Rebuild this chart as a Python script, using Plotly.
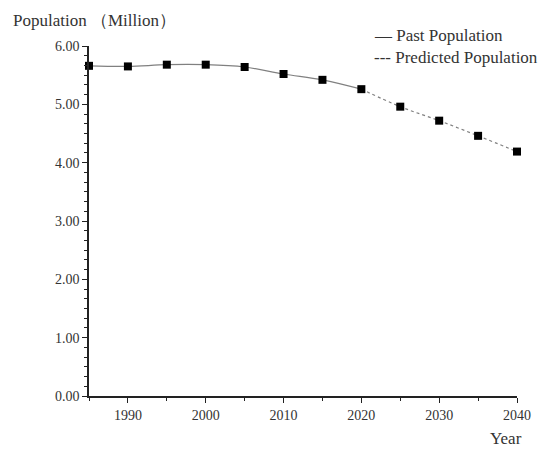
import plotly.graph_objects as go

past_years = [1985, 1990, 1995, 2000, 2005, 2010, 2015, 2020]
past_pop = [5.66, 5.65, 5.68, 5.68, 5.64, 5.52, 5.42, 5.26]
pred_years = [2020, 2025, 2030, 2035, 2040]
pred_pop = [5.26, 4.96, 4.72, 4.46, 4.19]
x_ticks = [1990, 2000, 2010, 2020, 2030, 2040]
y_ticks = [0, 1, 2, 3, 4, 5, 6]

FONT = "Liberation Serif"
TXT = "#333333"

# plot area in window pixels: x 89..517, y 46..396 (page has 8px body margin)
PW, PH = 428, 350
L0, T0 = 89, 46


def px(xw):
    return (xw - L0) / PW


def py(yw):
    return (T0 + PH - yw) / PH


fig = go.Figure()
fig.add_trace(go.Scatter(x=past_years, y=past_pop, mode="lines",
                         line=dict(color="#808080", width=1.2, shape="spline"),
                         showlegend=False, cliponaxis=False))
fig.add_trace(go.Scatter(x=pred_years, y=pred_pop, mode="lines",
                         line=dict(color="#808080", width=1.2, dash="dot", shape="spline"),
                         showlegend=False, cliponaxis=False))
fig.add_trace(go.Scatter(x=past_years + pred_years[1:], y=past_pop + pred_pop[1:], mode="markers",
                         marker=dict(symbol="square", size=8, color="black"),
                         showlegend=False, cliponaxis=False))

fig.update_layout(
    width=542, height=443,
    margin=dict(l=81, r=33, t=38, b=55),
    paper_bgcolor="white", plot_bgcolor="white",
    font=dict(family=FONT, color=TXT, size=14),
    showlegend=False,
    xaxis=dict(range=[1985, 2040], tickvals=x_ticks, ticks="outside", ticklen=5, tickwidth=1.2,
               tickcolor="#222", showline=True, linecolor="#222", linewidth=1.5,
               showgrid=False, zeroline=False,
               tickfont=dict(family=FONT, size=14, color=TXT),
               minor=dict(dtick=5, tick0=1985, ticks="outside", ticklen=3, tickcolor="#222", showgrid=False)),
    yaxis=dict(range=[0, 6], tickvals=y_ticks, tickformat=".2f", ticks="outside", ticklen=5, tickwidth=1.2,
               tickcolor="#222", showline=True, linecolor="#222", linewidth=1.5,
               showgrid=False, zeroline=False,
               tickfont=dict(family=FONT, size=14, color=TXT),
               minor=dict(dtick=1/6, tick0=0, ticks="outside", ticklen=3, tickcolor="#222", showgrid=False)),
    annotations=[
        dict(text="Population （Million）", xref="paper", yref="paper", x=px(11), y=py(20),
             xanchor="left", yanchor="middle", showarrow=False, font=dict(family=FONT, size=17, color=TXT)),
        dict(text="Year", xref="paper", yref="paper", x=px(524), y=py(438),
             xanchor="right", yanchor="middle", showarrow=False, font=dict(family=FONT, size=17, color=TXT)),
        dict(text="— Past Population", xref="paper", yref="paper", x=px(372), y=py(35),
             xanchor="left", yanchor="middle", showarrow=False, font=dict(family=FONT, size=17, color=TXT)),
        dict(text="--- Predicted Population", xref="paper", yref="paper", x=px(372), y=py(58),
             xanchor="left", yanchor="middle", showarrow=False, font=dict(family=FONT, size=17, color=TXT)),
    ],
)

fig.write_html("out.html")
